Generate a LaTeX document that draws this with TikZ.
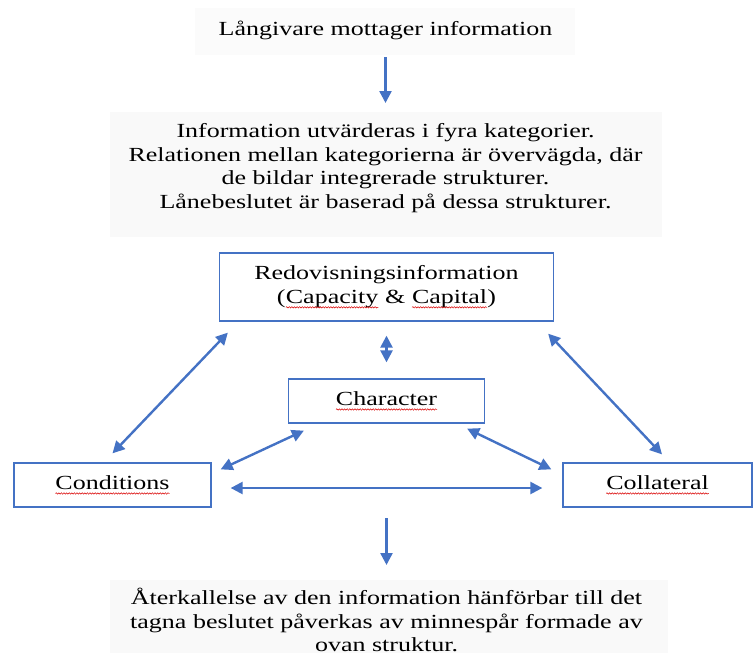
\documentclass[tikz,border=0pt]{standalone}
\usepackage{fontspec}
\setmainfont[FakeStretch=1.3]{Liberation Serif}
\usepackage{tikz}
\usetikzlibrary{arrows.meta,positioning,calc,decorations.pathmorphing}

\definecolor{wordblue}{HTML}{4472C4}

\tikzset{
    textblock/.style={align=center, inner sep=0pt},
    catbox/.style={draw=wordblue, line width=1.3pt, align=center, inner sep=0pt},
    link/.style={wordblue, line width=2.4pt}
}

% red wavy underline under a word
\newcommand{\spellmark}[1]{\tikz[baseline=(w.base)]{\node[draw=none, inner sep=0pt, outer sep=0pt, minimum width=0pt, minimum height=0pt] (w) {#1};
    \draw[red!85!black, line width=0.5pt, decorate, decoration={snake, amplitude=0.7pt, segment length=2.6pt}] ([yshift=-4pt]w.base west) -- ([yshift=-4pt]w.base east);}}

\begin{document}
\begin{tikzpicture}[x=1pt, y=-1pt, >={Triangle[length=12pt,width=12pt]}, font=\fontsize{20}{23.5}\selectfont]
        \useasboundingbox (0,0) rectangle (754,653);

        % Backgrounds
        \fill[black!1.5] (195,8) rectangle (575,55);
        \fill[black!2.5] (110,112) rectangle (662,237);
        \fill[black!2.5] (110,580) rectangle (668,653);

        % Nodes
        \node[textblock] (receive) at (385.5,30) {Långivare mottager information};
        \node[textblock] (evaluate) at (385.5,168) {Information utvärderas i fyra kategorier.\\
            Relationen mellan kategorierna är övervägda, där\\
            de bildar integrerade strukturer.\\
            Lånebeslutet är baserad på dessa strukturer.};

        \node[catbox, minimum width=334pt, minimum height=68pt] (account) at (386.5,287) {Redovisningsinformation\\(\spellmark{Capacity} \& \spellmark{Capital})};
        \node[catbox, minimum width=196pt, minimum height=44pt] (character) at (386.5,401) {\spellmark{Character}};
        \node[catbox, minimum width=197pt, minimum height=44pt] (conditions) at (112.5,485) {\spellmark{Conditions}};
        \node[catbox, minimum width=189pt, minimum height=44pt] (collateral) at (657.5,485) {\spellmark{Collateral}};

        \coordinate (split) at (386.5,518);
        \node[textblock] (recall) at (386.5,620) {Återkallelse av den information hänförbar till det\\
            tagna beslutet påverkas av minnespår formade av\\
            ovan struktur.};

        % Edges
        \draw[->, link] ([yshift=-27pt]receive.center) -- ([yshift=65pt]evaluate.center);

        \draw[<->, link] ([yshift=9pt]conditions.north) -- ([xshift=9pt,yshift=-11pt]account.south west);
        \draw[<->, link] ([xshift=-6pt,yshift=-12pt]account.south east) -- ([xshift=4.5pt,yshift=8pt]collateral.north);
        \draw[<->, link] ([yshift=-14pt]account.south) -- ([yshift=16pt]character.north);
        \draw[<->, link] ([xshift=16pt,yshift=-7pt]character.south west) -- ([xshift=9pt,yshift=-7pt]conditions.north east);
        \draw[<->, link] ([xshift=-18pt,yshift=-5pt]character.south east) -- ([xshift=-11pt,yshift=-7pt]collateral.north west);
        \draw[<->, link] ([xshift=19pt,yshift=-3pt]conditions.east) -- ([xshift=-20pt,yshift=-3pt]collateral.west);

        \draw[->, link] (split) -- ([yshift=55pt]recall.center);
    \end{tikzpicture}
\end{document}
